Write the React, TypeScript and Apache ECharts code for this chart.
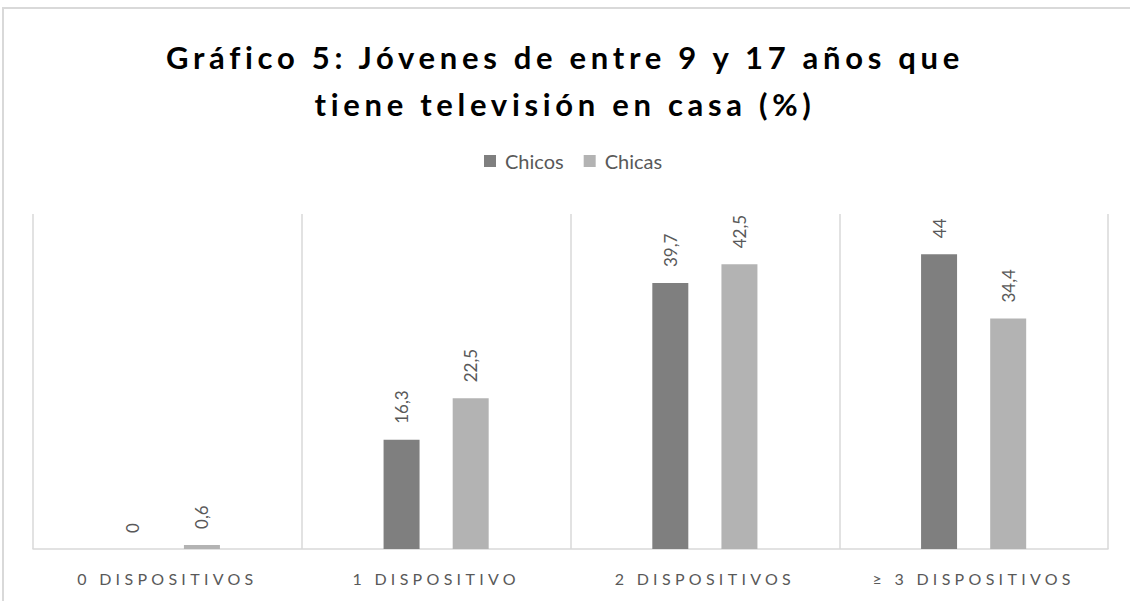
import React, { useEffect, useRef } from "react";
import * as echarts from "echarts";

const categories = ["0 DISPOSITIVOS", "1 DISPOSITIVO", "2 DISPOSITIVOS", "≥ 3 DISPOSITIVOS"];
const chicos = [0, 16.3, 39.7, 44];
const chicas = [0.6, 22.5, 42.5, 34.4];
const seriesNames = ["Chicos", "Chicas"];
const titleText = "Gráfico 5: Jóvenes de entre 9 y 17 años que\ntiene televisión en casa (%)";

const FONT = "Lato, 'Open Sans', sans-serif";

export default function App() {
  const ref = useRef<HTMLDivElement>(null);
  useEffect(() => {
    const el = ref.current!;
    const chart = echarts.init(el, undefined, { renderer: "svg" });
    const fmt = (p: any) => String(p.value).replace(".", ",");
    const label = {
      show: true,
      position: "top",
      rotate: 90,
      align: "left",
      verticalAlign: "middle",
      distance: 16,
      color: "#595959",
      fontSize: 17,
      fontFamily: FONT,
      formatter: fmt,
    };
    chart.setOption({
      animation: false,
      backgroundColor: "#ffffff",
      title: {
        text: titleText,
        left: "center",
        top: 28,
        textStyle: {
          fontFamily: FONT,
          fontWeight: "bold",
          fontSize: 31,
          lineHeight: 47,
          color: "#000000",
        },
      },
      legend: {
        data: seriesNames,
        top: 146,
        left: 479,
        icon: "rect",
        itemWidth: 12,
        itemHeight: 12,
        itemGap: 20,
        textStyle: { color: "#595959", fontSize: 20, fontFamily: FONT, padding: [0, 0, 0, 4] },
      },
      grid: { left: 33, right: 22, top: 214, bottom: 52, containLabel: false },
      xAxis: {
        type: "category",
        data: categories,
        axisLine: { lineStyle: { color: "#d9d9d9", width: 1.5 } },
        axisTick: { show: false },
        splitLine: { show: true, lineStyle: { color: "#d9d9d9", width: 1.5 } },
        axisLabel: { color: "#595959", fontSize: 16, fontFamily: FONT, margin: 21 },
      },
      yAxis: { type: "value", min: 0, max: 50, show: false, splitLine: { show: false } },
      series: [
        { name: seriesNames[0], type: "bar", data: chicos, barWidth: 36, barGap: "92%", itemStyle: { color: "#7f7f7f" }, label },
        { name: seriesNames[1], type: "bar", data: chicas, barWidth: 36, barGap: "92%", itemStyle: { color: "#b3b3b3" }, label },
      ],
      graphic: [
        {
          type: "rect",
          shape: { x: 3, y: 8, width: 1200, height: 700 },
          style: { fill: "none", stroke: "#d9d9d9", lineWidth: 2 },
          silent: true,
        },
      ],
    });
    const spacing = () => {
      el.querySelectorAll("text").forEach((t) => {
        const s = t.textContent || "";
        if (s.startsWith("Gráfico") || s.startsWith("tiene")) t.setAttribute("letter-spacing", "4.7");
        else if (categories.includes(s)) t.setAttribute("letter-spacing", "4.3");
      });
    };
    spacing();
    chart.on("finished", spacing);
    const id = setTimeout(spacing, 50);
    return () => {
      clearTimeout(id);
      chart.dispose();
    };
  }, []);
  return <div ref={ref} style={{ position: "absolute", left: 0, top: 0, width: 1130, height: 601 }} />;
}
